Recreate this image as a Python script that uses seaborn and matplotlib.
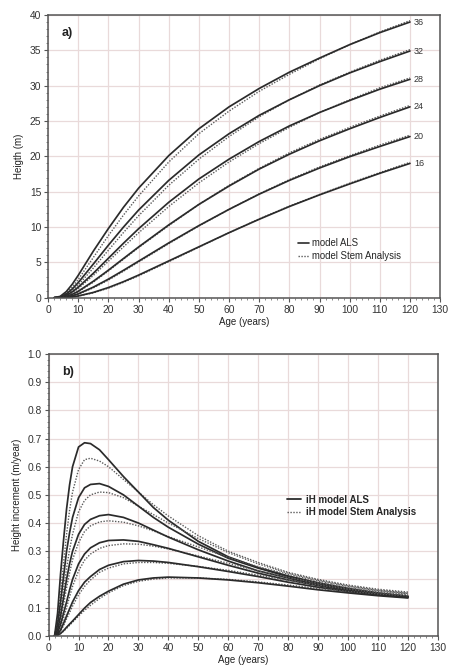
import numpy as np
import pandas as pd
import matplotlib
matplotlib.use("Agg")
import matplotlib.pyplot as plt
from matplotlib.ticker import MultipleLocator
import seaborn as sns

# ---------------------------------------------------------------- data
site_index = [36, 32, 28, 24, 20, 16]

# a) dominant height (m) by age
age_h = [2, 4, 6, 8, 10, 15, 20, 25, 30, 40, 50, 60, 70, 80, 90, 100, 110, 120]
height_als = {
    36: [0, 0.19, 0.86, 1.91, 3.18, 6.6, 9.8, 12.8, 15.5, 20.1, 23.9, 27.0, 29.6, 31.9, 33.9, 35.8, 37.5, 39.0],
    32: [0, 0.1, 0.52, 1.24, 2.15, 4.77, 7.44, 10.0, 12.4, 16.6, 20.2, 23.2, 25.8, 28.0, 30.0, 31.8, 33.4, 34.9],
    28: [0, 0.055, 0.33, 0.83, 1.49, 3.46, 5.59, 7.71, 9.76, 13.5, 16.8, 19.6, 22.1, 24.3, 26.2, 27.9, 29.5, 30.9],
    24: [0, 0.03, 0.18, 0.48, 0.92, 2.33, 3.9, 5.55, 7.18, 10.3, 13.2, 15.8, 18.2, 20.3, 22.2, 23.9, 25.5, 27.0],
    20: [0, 0.015, 0.1, 0.28, 0.55, 1.5, 2.63, 3.88, 5.17, 7.75, 10.2, 12.5, 14.65, 16.6, 18.35, 19.95, 21.4, 22.8],
    16: [0, 0.006, 0.043, 0.126, 0.25, 0.75, 1.44, 2.27, 3.2, 5.2, 7.2, 9.2, 11.1, 12.9, 14.55, 16.1, 17.6, 19.0],
}
height_stem = {
    36: [0, 0.12, 0.63, 1.5, 2.6, 5.7, 8.8, 11.7, 14.4, 19.2, 23.2, 26.4, 29.2, 31.6, 33.8, 35.8, 37.6, 39.2],
    32: [0, 0.075, 0.4, 1.0, 1.8, 4.2, 6.73, 9.23, 11.6, 15.9, 19.6, 22.8, 25.6, 28.0, 30.1, 31.9, 33.6, 35.1],
    28: [0, 0.043, 0.27, 0.71, 1.31, 3.16, 5.17, 7.2, 9.18, 12.9, 16.24, 19.2, 21.8, 24.1, 26.2, 28.0, 29.7, 31.1],
    24: [0, 0.025, 0.15, 0.42, 0.83, 2.2, 3.8, 5.45, 7.1, 10.2, 13.2, 15.9, 18.3, 20.5, 22.4, 24.1, 25.7, 27.2],
    20: [0, 0.012, 0.08, 0.25, 0.5, 1.4, 2.5, 3.75, 5.05, 7.65, 10.15, 12.5, 14.7, 16.7, 18.5, 20.1, 21.6, 23.0],
    16: [0, 0.005, 0.04, 0.115, 0.23, 0.69, 1.36, 2.18, 3.1, 5.1, 7.15, 9.2, 11.15, 12.95, 14.6, 16.2, 17.7, 19.15],
}

# b) annual height increment (m/year) by age
age_i = [2, 3, 4, 5, 6, 7, 8, 10, 12, 14, 17, 20, 25, 30, 35, 40, 50, 60, 70, 80, 90, 100, 110, 120]
incr_als = {
    36: [0, 0.08, 0.22, 0.34, 0.45, 0.535, 0.6, 0.67, 0.685, 0.682, 0.66, 0.625, 0.565, 0.51, 0.455, 0.41, 0.335, 0.28, 0.242, 0.212, 0.188, 0.168, 0.152, 0.14],
    32: [0, 0.04, 0.12, 0.21, 0.3, 0.365, 0.42, 0.49, 0.525, 0.537, 0.54, 0.53, 0.5, 0.46, 0.42, 0.385, 0.325, 0.275, 0.24, 0.21, 0.185, 0.165, 0.15, 0.14],
    28: [0, 0.02, 0.07, 0.135, 0.2, 0.255, 0.3, 0.36, 0.395, 0.413, 0.426, 0.43, 0.42, 0.4, 0.375, 0.35, 0.305, 0.265, 0.23, 0.205, 0.18, 0.163, 0.148, 0.138],
    24: [0, 0.01, 0.04, 0.08, 0.12, 0.162, 0.2, 0.255, 0.29, 0.312, 0.33, 0.338, 0.34, 0.335, 0.323, 0.31, 0.28, 0.25, 0.222, 0.198, 0.178, 0.16, 0.147, 0.137],
    20: [0, 0.005, 0.02, 0.044, 0.07, 0.095, 0.12, 0.16, 0.19, 0.21, 0.235, 0.25, 0.263, 0.267, 0.265, 0.26, 0.245, 0.228, 0.21, 0.19, 0.172, 0.157, 0.145, 0.136],
    16: [0, 0.002, 0.008, 0.018, 0.03, 0.041, 0.052, 0.075, 0.098, 0.118, 0.14, 0.158, 0.183, 0.198, 0.205, 0.208, 0.205, 0.198, 0.188, 0.176, 0.163, 0.152, 0.142, 0.134],
}
incr_stem = {
    36: [0, 0.05, 0.15, 0.26, 0.36, 0.445, 0.51, 0.59, 0.625, 0.63, 0.62, 0.6, 0.555, 0.51, 0.465, 0.425, 0.355, 0.3, 0.26, 0.225, 0.2, 0.18, 0.165, 0.155],
    32: [0, 0.03, 0.09, 0.165, 0.24, 0.305, 0.36, 0.44, 0.48, 0.5, 0.51, 0.508, 0.49, 0.46, 0.43, 0.4, 0.345, 0.295, 0.255, 0.222, 0.197, 0.177, 0.162, 0.152],
    28: [0, 0.015, 0.055, 0.11, 0.17, 0.222, 0.27, 0.33, 0.37, 0.39, 0.404, 0.408, 0.403, 0.39, 0.372, 0.352, 0.315, 0.278, 0.245, 0.218, 0.194, 0.175, 0.16, 0.15],
    24: [0, 0.008, 0.03, 0.063, 0.1, 0.138, 0.175, 0.23, 0.268, 0.29, 0.31, 0.32, 0.326, 0.325, 0.318, 0.308, 0.283, 0.257, 0.23, 0.207, 0.187, 0.17, 0.157, 0.148],
    20: [0, 0.004, 0.016, 0.036, 0.06, 0.082, 0.105, 0.145, 0.175, 0.198, 0.225, 0.24, 0.255, 0.26, 0.26, 0.257, 0.246, 0.232, 0.215, 0.197, 0.18, 0.165, 0.153, 0.145],
    16: [0, 0.002, 0.007, 0.016, 0.026, 0.037, 0.048, 0.07, 0.09, 0.108, 0.132, 0.152, 0.178, 0.193, 0.201, 0.205, 0.205, 0.2, 0.191, 0.18, 0.168, 0.157, 0.148, 0.142],
}

x_ticks = list(range(0, 131, 10))

# ---------------------------------------------------------------- style
sns.set_theme(style="whitegrid")
plt.rcParams["font.family"] = ["Liberation Sans", "DejaVu Sans"]

INK = "#2b2b2b"
DOTS = "#5a5a5a"
GRID = "#e9dada"

fig = plt.figure(figsize=(4.5, 6.71), dpi=100)
ax_a = fig.add_axes([0.107, 0.5563, 0.871, 0.4214])
ax_b = fig.add_axes([0.108, 0.0526, 0.865, 0.4198])


def long_frame(ages, table, model):
    rows = []
    for si in site_index:
        for a, v in zip(ages, table[si]):
            rows.append({"age": a, "value": v, "si": si, "model": model})
    return pd.DataFrame(rows)


def style_axes(ax, ymax, ystep, yminor, yfmt):
    ax.set_xlim(0, 130)
    ax.set_ylim(0, ymax)
    ax.set_xticks(x_ticks)
    ax.xaxis.set_minor_locator(MultipleLocator(2))
    ax.yaxis.set_major_locator(MultipleLocator(ystep))
    ax.yaxis.set_minor_locator(MultipleLocator(yminor))
    ax.yaxis.set_major_formatter(plt.FuncFormatter(lambda v, _: format(v, yfmt)))
    ax.set_facecolor("white")
    ax.grid(True, which="major", color=GRID, linewidth=0.9)
    ax.grid(False, which="minor")
    for s in ax.spines.values():
        s.set_visible(True)
        s.set_color("#555555")
        s.set_linewidth(1.1)
    ax.tick_params(axis="both", which="major", direction="out", length=3,
                   width=0.8, color="#555555", labelsize=7.4,
                   labelcolor="#333333", pad=2, bottom=True, left=True)
    ax.tick_params(axis="both", which="minor", direction="out", length=1.5,
                   width=0.6, color="#777777", bottom=True, left=True)
    ax.set_xlabel("Age (years)", fontsize=7, color="#222222", labelpad=2)


def draw_models(ax, ages, als, stem):
    df_als = long_frame(ages, als, "ALS")
    df_stem = long_frame(ages, stem, "Stem")
    for si in site_index:
        sns.lineplot(data=df_stem[df_stem.si == si], x="age", y="value", ax=ax,
                     color=DOTS, linewidth=1.0, linestyle=(0, (1, 1.1)),
                     estimator=None, sort=False, legend=False)
        sns.lineplot(data=df_als[df_als.si == si], x="age", y="value", ax=ax,
                     color=INK, linewidth=1.25, estimator=None, sort=False,
                     legend=False)


# ---------------------------------------------------------------- a) height
draw_models(ax_a, age_h, height_als, height_stem)
style_axes(ax_a, 40, 5, 1, "g")
ax_a.set_ylabel("Heigth (m)", fontsize=7, color="#222222", labelpad=4)
for si in site_index:
    ax_a.text(age_h[-1] + 1.3, height_als[si][-1], str(si), fontsize=6.5,
              color="#333333", ha="left", va="center")
ax_a.text(4.5, 37.0, "a)", fontsize=9, fontweight="bold", color="#222222")
h1, = ax_a.plot([], [], color=INK, linewidth=1.2)
h2, = ax_a.plot([], [], color=DOTS, linewidth=1.0, linestyle=(0, (1, 1.1)))
ax_a.legend([h1, h2], ["model ALS", "model Stem Analysis"], loc="upper left",
            bbox_to_anchor=(0.62, 0.235), frameon=False, fontsize=6.9,
            handlelength=1.2, handletextpad=0.3, labelspacing=0.3,
            borderpad=0.2)

# ---------------------------------------------------------------- b) increment
draw_models(ax_b, age_i, incr_als, incr_stem)
style_axes(ax_b, 1.0, 0.1, 0.02, ".1f")
ax_b.set_ylabel("Height increment (m/year)", fontsize=7, color="#222222",
                labelpad=4)
ax_b.text(4.5, 0.925, "b)", fontsize=9, fontweight="bold", color="#222222")
g1, = ax_b.plot([], [], color=INK, linewidth=1.3)
g2, = ax_b.plot([], [], color=DOTS, linewidth=1.0, linestyle=(0, (1, 1.1)))
ax_b.legend([g1, g2], ["iH model ALS", "iH model Stem Analysis"],
            loc="upper left", bbox_to_anchor=(0.595, 0.525), frameon=False,
            prop={"size": 7, "weight": "semibold"}, handlelength=1.4,
            handletextpad=0.6, labelspacing=0.25, borderpad=0.2)

fig.savefig("out.png", dpi=100, facecolor="white")
